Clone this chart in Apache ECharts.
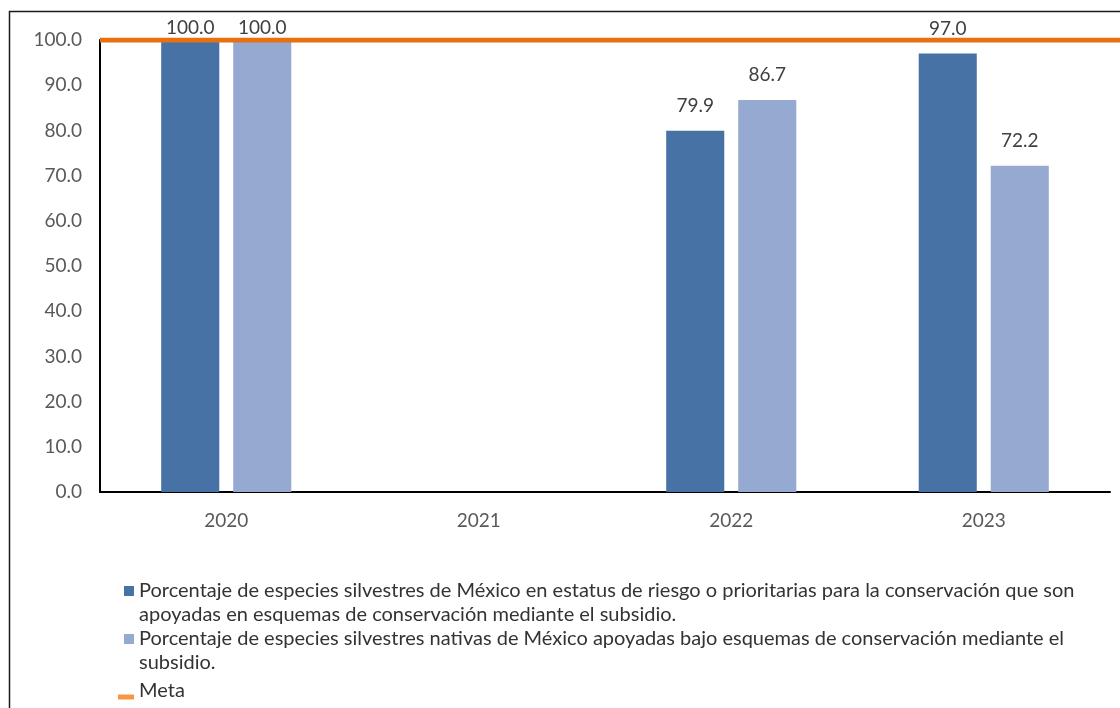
<!DOCTYPE html>
<html>
<head>
<meta charset="utf-8">
<script src="https://cdn.jsdelivr.net/npm/echarts@6/dist/echarts.min.js"></script>
<style>html,body{margin:0;padding:0;background:#fff}#c{width:1120px;height:708px}</style>
</head>
<body>
<div id="c"></div>
<script>
const categories = ['2020', '2021', '2022', '2023'];
const seriesRiesgo = [100.0, null, 79.9, 97.0];
const seriesNativas = [100.0, null, 86.7, 72.2];
const metaValues = [100, 100, 100, 100];
const yTicks = { min: 0, max: 100, interval: 10 };
const nameRiesgo = 'Porcentaje de especies silvestres de México en estatus de riesgo o prioritarias para la conservación que son apoyadas en esquemas de conservación mediante el subsidio.';
const nameNativas = 'Porcentaje de especies silvestres nativas de México apoyadas bajo esquemas de conservación mediante el subsidio.';
const nameMeta = 'Meta';

const FONT = 'Lato';
const FS = 20;
const AFS = 19;

function wrap(name) {
  if (name === nameRiesgo) return ' \nPorcentaje de especies silvestres de México en estatus de riesgo o prioritarias para la conservación que son\napoyadas en esquemas de conservación mediante el subsidio.';
  if (name === nameNativas) return ' \nPorcentaje de especies silvestres nativas de México apoyadas bajo esquemas de conservación mediante el\nsubsidio.';
  return name;
}

function barData(vals) {
  return vals.map(v => (v !== null && v >= 100) ? { value: v, label: { distance: 3 } } : v);
}

const labelCfg = {
  show: true, position: 'top', distance: 15.5,
  color: '#404040', fontFamily: FONT, fontSize: AFS,
  formatter: p => p.value == null ? '' : Number(p.value).toFixed(1)
};

const multiLegend = (name, top) => ({
  orient: 'vertical', left: 124, top: top, padding: 0,
  itemWidth: 10, itemHeight: 10, itemGap: 0,
  icon: 'rect', selectedMode: false,
  data: [name],
  formatter: wrap,
  textStyle: { fontFamily: FONT, fontSize: FS, color: '#333', lineHeight: 24 }
});

const chart = echarts.init(document.getElementById('c'));
chart.setOption({
  animation: false,
  backgroundColor: '#fff',
  grid: [
    { left: 100, right: 10, top: 40, bottom: 216, containLabel: false },
    { left: 100, right: 0, top: 40, bottom: 216, containLabel: false }
  ],
  xAxis: [
    {
      type: 'category', data: categories, gridIndex: 0,
      axisLine: { lineStyle: { color: '#000', width: 2 } },
      axisTick: { show: false },
      axisLabel: { color: '#595959', fontFamily: FONT, fontSize: AFS, margin: 19 }
    },
    {
      type: 'category', data: categories, gridIndex: 1, boundaryGap: false, show: false
    }
  ],
  yAxis: [
    {
      type: 'value', gridIndex: 0, min: yTicks.min, max: yTicks.max, interval: yTicks.interval,
      axisLine: { show: true, lineStyle: { color: '#000', width: 2 } },
      axisTick: { show: false },
      splitLine: { show: false },
      axisLabel: { color: '#595959', fontFamily: FONT, fontSize: AFS, margin: 18, formatter: v => v.toFixed(1) }
    },
    {
      type: 'value', gridIndex: 1, min: yTicks.min, max: yTicks.max, interval: yTicks.interval, show: false
    }
  ],
  legend: [
    multiLegend(nameRiesgo, 555),
    multiLegend(nameNativas, 603),
    {
      orient: 'vertical', left: 118, top: 681, padding: 0,
      itemWidth: 16, itemHeight: 5, icon: 'rect', selectedMode: false,
      data: [{ name: nameMeta, itemStyle: { color: '#F79646' } }],
      formatter: n => '{a|' + n + '}\n{b| }',
      textStyle: {
        fontFamily: FONT, fontSize: FS, color: '#333',
        rich: { a: { fontFamily: FONT, fontSize: FS, color: '#333', lineHeight: 24 }, b: { fontSize: 8, lineHeight: 12 } }
      }
    }
  ],
  series: [
    {
      name: nameRiesgo, type: 'bar', data: barData(seriesRiesgo),
      barWidth: '23%', barGap: '24%',
      itemStyle: { color: '#4672A6' },
      label: labelCfg
    },
    {
      name: nameNativas, type: 'bar', data: barData(seriesNativas),
      barWidth: '23%', barGap: '24%',
      itemStyle: { color: '#95A9D1' },
      label: labelCfg
    },
    {
      name: nameMeta, type: 'line', xAxisIndex: 1, yAxisIndex: 1, data: metaValues,
      symbol: 'none', z: 5,
      lineStyle: { color: '#E8700E', width: 5 },
      itemStyle: { color: '#E8700E' }
    }
  ],
  graphic: [
    {
      type: 'rect', silent: true, z: 100,
      shape: { x: 9.5, y: 11.5, width: 1200, height: 800 },
      style: { fill: 'none', stroke: '#1a1a1a', lineWidth: 1.5 }
    }
  ]
});
</script>
</body>
</html>
